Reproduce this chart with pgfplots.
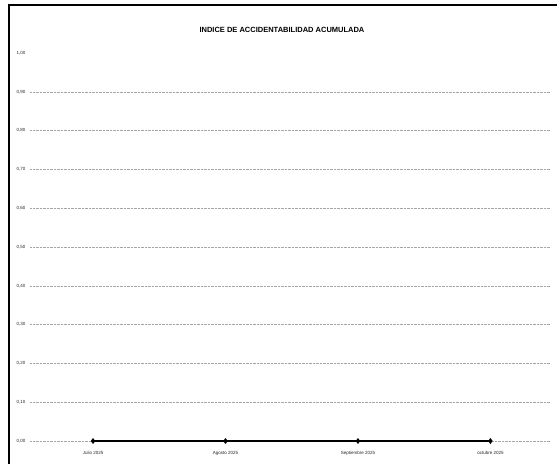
\documentclass[border=0pt]{standalone}
\usepackage{fontspec}
\setmainfont{Liberation Sans}
\usepackage{pgfplots}
\pgfplotsset{compat=1.18}
\begin{document}
\begin{tikzpicture}[x=1pt,y=1pt]
\path[use as bounding box] (-30,-23) rectangle (527,441);
\begin{axis}[
  at={(0,0)}, anchor=south west,
  scale only axis,
  width=520pt, height=388pt,
  xmin=-0.476, xmax=3.45,
  ymin=0, ymax=1,
  axis line style={draw=none},
  xtick={0,1,2,3},
  xticklabels={Julio 2025,Agosto 2025,Septiembre 2025,octubre 2025},
  ytick={0,0.1,0.2,0.3,0.4,0.5,0.6,0.7,0.8,0.9},
  yticklabels={{0,00},{0,10},{0,20},{0,30},{0,40},{0,50},{0,60},{0,70},{0,80},{0,90}},
  extra y ticks={1},
  extra y tick labels={1{,}00},
  extra y tick style={grid=none},
  major tick length=0pt,
  ymajorgrids,
  grid style={gray!70, densely dotted, line width=0.5pt},
  tick label style={font=\fontsize{4.5}{5}\selectfont, text=black!85},
  yticklabel style={anchor=east, xshift=-1pt},
  xticklabel style={yshift=-7pt},
  clip=false,
]
\addplot[black, line width=1.2pt, mark=diamond*, mark size=2pt] coordinates {(0,0) (1,0) (2,0) (3,0)};
\end{axis}
\draw[black, line width=1.5pt] (-21,-23) -- (-21,436) -- (527,436);
\node[font=\fontsize{7.5}{8}\selectfont\bfseries] at (252,411) {INDICE DE ACCIDENTABILIDAD ACUMULADA};
\end{tikzpicture}
\end{document}
